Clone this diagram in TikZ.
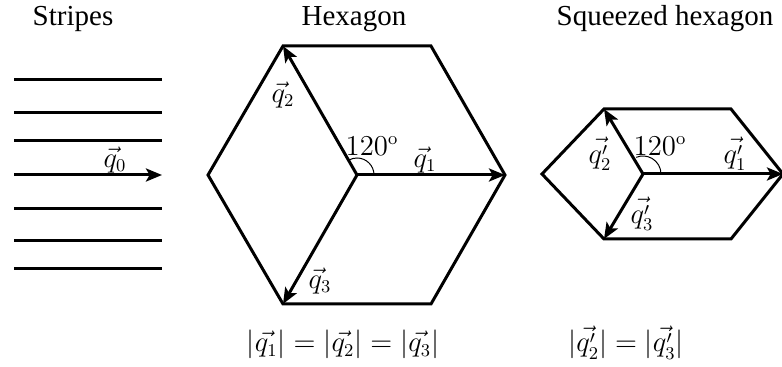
\documentclass[tikz,border=0pt]{standalone}
\usepackage[no-math]{fontspec}
\setmainfont{Liberation Serif}
\usetikzlibrary{arrows.meta}
\tikzset{
  edge/.style={line width=1.5pt, line join=miter},
  vec/.style={line width=1.5pt, -{Stealth[length=8pt,width=6.5pt,inset=1.8pt]}},
  title/.style={anchor=base, font=\fontsize{14.5}{17}\selectfont},
  lab/.style={font=\fontsize{13.5}{16}\selectfont, inner sep=0pt},
  arcline/.style={line width=0.5pt}
}
\begin{document}
\begin{tikzpicture}[x=0.5pt,y=-0.5pt]
\useasboundingbox (0,0) rectangle (782,367);
% titles
\node[title] (t1) at (73,26) {Stripes};
\node[title] (t2) at (354,26) {Hexagon};
\node[title] (t3) at (665,26) {Squeezed hexagon};
% stripes
\foreach \y/\n in {80/a,113/b,141/c,209/e,241/f,269/g}{
  \coordinate (s\n l) at (14,\y);
  \coordinate (s\n r) at (162,\y);
  \draw[edge] (s\n l) -- (s\n r);
}
\coordinate (s0l) at (14,175);
\coordinate (s0r) at (162,175);
\draw[vec] (s0l) -- (s0r);
\node[lab] (q0) at (115,160) {$\vec{q}_0$};
% hexagon
\coordinate (h1) at (283,46);
\coordinate (h2) at (431,46);
\coordinate (h3) at (505,175);
\coordinate (h4) at (431,304);
\coordinate (h5) at (283,304);
\coordinate (h6) at (208,175);
\coordinate (hc) at (357,175);
\draw[edge] (h1) -- (h2) -- (h3) -- (h4) -- (h5) -- (h6) -- cycle;
\draw[vec] (hc) -- (h3);
\draw[vec] (hc) -- (h1);
\draw[vec] (hc) -- (h5);
\draw[arcline] ([xshift=17*0.5pt]hc) arc[start angle=0,end angle=120,radius=8.5pt];
\node[lab] (q1) at (425,160) {$\vec{q}_1$};
\node[lab] (q2) at (283,95) {$\vec{q}_2$};
\node[lab] (q3) at (320,281) {$\vec{q}_3$};
\node[lab] (a1) at (372,146) {$120^{\mathrm{o}}$};
% squeezed hexagon
\coordinate (k1) at (604,109);
\coordinate (k2) at (731,109);
\coordinate (k3) at (783,174);
\coordinate (k4) at (731,239);
\coordinate (k5) at (604,239);
\coordinate (k6) at (542,174);
\coordinate (kc) at (643,174);
\draw[edge] (k1) -- (k2) -- (k3) -- (k4) -- (k5) -- (k6) -- cycle;
\draw[vec] (kc) -- (k3);
\draw[vec] (kc) -- (k1);
\draw[vec] (kc) -- (k5);
\draw[arcline] ([xshift=18*0.5pt]kc) arc[start angle=0,end angle=112,radius=9pt];
\node[lab] (p1) at (735,154) {$\vec{q'_1}$};
\node[lab] (p2) at (600,154) {$\vec{q'_2}$};
\node[lab] (p3) at (642,214) {$\vec{q'_3}$};
\node[lab] (a2) at (660,146) {$120^{\mathrm{o}}$};
% formulas
\node[lab, anchor=base] (f1) at (343,352) {$|\vec{q_1}|=|\vec{q_2}|=|\vec{q_3}|$};
\node[lab, anchor=base] (f2) at (626,352) {$|\vec{q'_2}|=|\vec{q'_3}|$};
\end{tikzpicture}
\end{document}
